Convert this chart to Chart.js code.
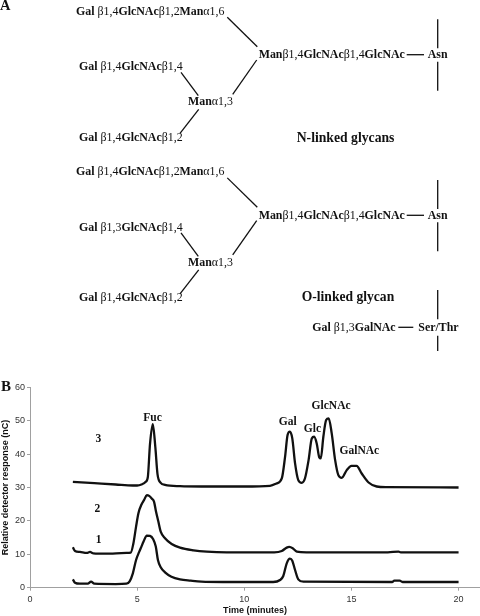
<!DOCTYPE html>
<html><head><meta charset="utf-8">
<style>html,body{margin:0;padding:0;background:#fff}canvas{display:block}</style>
<script src="https://cdn.jsdelivr.net/npm/chart.js@4"></script>
</head><body>
<canvas id="c" width="480" height="616"></canvas>
<script>
const time3 = [2,3,4,4.8,5,5.2,5.4,5.5,5.6,5.73,5.85,5.95,6.1,6.3,7,8,10,11.2,11.5,11.75,11.9,12.02,12.13,12.24,12.37,12.52,12.68,12.83,13,13.15,13.26,13.38,13.5,13.57,13.69,13.82,13.94,14.08,14.24,14.39,14.55,14.78,15,15.24,15.48,15.8,16.18,16.65,20];
const trace3 = [31.7,31.3,30.9,30.6,30.6,30.9,31.7,33.2,43,49,42,34,31.4,30.8,30.4,30.3,30.3,30.5,31.2,32.7,39,45.7,46.7,44.7,37.2,32.2,31.4,32.7,38.2,44.7,45.2,43.2,39,38.7,45.2,50.2,50.7,46.2,38.2,33.7,32.9,35.2,36.5,36.5,34.2,31.5,30.3,30.1,30];
const time2 = [2,2.1,2.33,2.65,2.8,2.96,3.5,4.5,4.7,4.82,4.95,5.06,5.21,5.32,5.45,5.56,5.68,5.79,5.88,5.99,6.1,6.3,6.61,7,7.63,8.25,9.18,10,11.4,11.75,11.98,12.1,12.26,12.45,12.9,16.7,17.2,17.3,20];
const trace2 = [12.1,11,10.7,10.4,10.7,10.3,10.2,10.4,10.5,13.1,18.3,22.3,25,26.2,27.7,27.5,26.7,25.7,22.8,19.8,16.8,14.8,13.1,12,11.2,10.8,10.6,10.6,10.6,11,12,12.2,11.8,10.8,10.6,10.6,10.8,10.6,10.6];
const time1 = [2,2.1,2.33,2.7,2.85,3,4,4.5,4.65,4.8,4.95,5.1,5.2,5.3,5.45,5.6,5.75,5.87,5.97,6.1,6.3,6.6,7,7.5,8,9,10,11.35,11.67,11.82,11.98,12.13,12.24,12.37,12.52,12.76,16.9,17,17.25,17.4,20];
const trace1 = [2.5,1.5,1.2,1.2,1.8,1.2,1.1,1.2,1.9,4.3,8.3,10.8,12.3,13.8,15.6,15.5,14.5,12.3,8.3,6.1,4.6,3.3,2.5,2.1,1.8,1.7,1.7,1.7,2.3,3.5,7.3,8.7,8.1,5.3,2.5,1.8,1.7,2.1,2.1,1.7,1.7];
const peakNames = ["Fuc","Gal","Glc","GlcNAc","GalNAc","3","2","1"];
const peakX = [5.72,12.03,13.18,14.05,15.37,3.19,3.14,3.2];
const peakY = [50,48.7,46.6,53.4,40.1,43.6,22.6,13.5];

const pairs = (xs, ys) => xs.map((x, i) => ({x, y: ys[i]}));
const serif = '"Liberation Serif"';
const B = 'bold', R = 'normal';
function runs(ctx, x, y, size, parts) {
  ctx.textAlign = 'left'; ctx.textBaseline = 'alphabetic';
  parts.forEach(([w, t]) => {
    ctx.font = `${w} ${size}px ${serif}`;
    ctx.fillText(t, x, y);
    x += ctx.measureText(t).width;
  });
}
function glycan(ctx, dy, mid) {
  const s = 11.9;
  runs(ctx, 76, 14.7 + dy, s, [[B,'Gal'],[R,' β1,4'],[B,'GlcNAc'],[R,'β1,2'],[B,'Man'],[R,'α1,6']]);
  runs(ctx, 79, 70.3 + dy, s, [[B,'Gal'],[R,' '+mid],[B,'GlcNAc'],[R,'β1,4']]);
  runs(ctx, 188, 105.3 + dy, s, [[B,'Man'],[R,'α1,3']]);
  runs(ctx, 79, 140.7 + dy, s, [[B,'Gal'],[R,' β1,4'],[B,'GlcNAc'],[R,'β1,2']]);
  runs(ctx, 258.7, 58.3 + dy, s, [[B,'Man'],[R,'β1,4'],[B,'GlcNAc'],[R,'β1,4'],[B,'GlcNAc']]);
  runs(ctx, 427.7, 58.3 + dy, s, [[B,'Asn']]);
  [[227.3,17.3,257.3,46.7],[256.7,60,232.7,94.3],[181,72.3,198.3,95.7],[198.7,109.3,180,133.3],[406.7,54.7,424,54.7],[437.7,19.3,437.7,48.3],[437.7,61.7,437.7,90.7]].forEach(([a,b,c,d]) => {
    ctx.beginPath(); ctx.moveTo(a, b + dy); ctx.lineTo(c, d + dy); ctx.stroke();
  });
}
const diagram = {
  id: 'diagram',
  afterDraw(chart) {
    const ctx = chart.ctx;
    ctx.save();
    ctx.fillStyle = '#111'; ctx.strokeStyle = '#111'; ctx.lineWidth = 1.3;
    runs(ctx, 0, 10, 14.5, [[B,'A']]);
    runs(ctx, 1, 390.7, 15, [[B,'B']]);
    glycan(ctx, 0, 'β1,4');
    glycan(ctx, 160.6, 'β1,3');
    runs(ctx, 296.7, 141.7, 13.7, [[B,'N-linked glycans']]);
    runs(ctx, 301.7, 301.3, 13.6, [[B,'O-linked glycan']]);
    runs(ctx, 312.3, 330.7, 11.9, [[B,'Gal'],[R,' β1,3'],[B,'GalNAc']]);
    runs(ctx, 418.3, 330.7, 11.9, [[B,'Ser/Thr']]);
    [[398.3,327.3,413.3,327.3],[437.7,290,437.7,319.3],[437.7,335.7,437.7,351]].forEach(([a,b,c,d]) => {
      ctx.beginPath(); ctx.moveTo(a, b); ctx.lineTo(c, d); ctx.stroke();
    });
    ctx.font = `bold 11.5px ${serif}`;
    ctx.textAlign = 'center'; ctx.textBaseline = 'alphabetic';
    peakNames.forEach((n, i) => {
      ctx.fillText(n, chart.scales.x.getPixelForValue(peakX[i]), chart.scales.y.getPixelForValue(peakY[i]));
    });
    ctx.restore();
  }
};
const line = (label, xs, ys) => ({label, data: pairs(xs, ys), borderColor:'#111', borderWidth:2.3, pointRadius:0, showLine:true, fill:false, cubicInterpolationMode:'monotone'});
new Chart(document.getElementById('c'), {
  type: 'scatter',
  data: { datasets: [line('3', time3, trace3), line('2', time2, trace2), line('1', time1, trace1)] },
  plugins: [diagram],
  options: {
    responsive: false, animation: false, events: [],
    layout: { padding: { top: 387.3, left: 0, right: 0, bottom: 0 } },
    plugins: { legend: {display:false}, tooltip: {enabled:false}, title: {display:false} },
    scales: {
      x: {
        type:'linear', min:0, max:21,
        afterFit(s){ s.height = 28.3; },
        grid:{drawOnChartArea:false, drawTicks:true, tickLength:3, color:'#a0a0a0'},
        border:{color:'#a0a0a0', width:1},
        ticks:{stepSize:5, includeBounds:false, maxRotation:0, color:'#333', padding:3, font:{family:'"Liberation Sans"', size:9}},
        title:{display:true, text:'Time (minutes)', color:'#111', padding:{top:1,bottom:0}, font:{family:'"Liberation Sans"', size:9, weight:'bold'}}
      },
      y: {
        type:'linear', min:0, max:60,
        afterFit(s){ s.width = 30; },
        grid:{drawOnChartArea:false, drawTicks:true, tickLength:3, color:'#a0a0a0'},
        border:{color:'#a0a0a0', width:1},
        ticks:{stepSize:10, color:'#333', padding:2, font:{family:'"Liberation Sans"', size:9}},
        title:{display:true, text:'Relative detector response (nC)', color:'#111', padding:{top:0,bottom:0}, font:{family:'"Liberation Sans"', size:9, weight:'bold'}}
      }
    }
  }
});
</script>
</body></html>
